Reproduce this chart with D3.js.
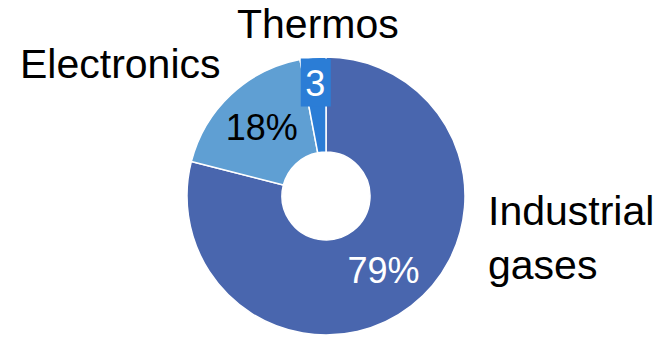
<!DOCTYPE html>
<html>
<head>
<meta charset="utf-8">
<script src="https://cdn.jsdelivr.net/npm/d3@7"></script>
<style>
  html, body { margin: 0; padding: 0; background: #fff; }
  svg { display: block; font-family: "Liberation Sans", Arial, sans-serif; }
</style>
</head>
<body>
<svg id="chart" width="653" height="337"></svg>
<script>
// Data
const categories = ["Industrial gases", "Electronics", "Thermos"];
const values = [79, 18, 3];
const valueLabels = ["79%", "18%", "3"];
const colors = ["#4966ae", "#5f9fd3", "#2b7dd6"];

const W = 653, H = 337;
const cx = 326, cy = 196;
const outerR = 139, innerR = 44;

const svg = d3.select("#chart");
const g = svg.append("g").attr("transform", `translate(${cx},${cy})`);

const pie = d3.pie().sort(null).value(d => d);
const arcs = pie(values);

const arc = d3.arc().innerRadius(innerR).outerRadius(outerR);

g.selectAll("path.slice")
  .data(arcs)
  .enter().append("path")
  .attr("class", "slice")
  .attr("d", arc)
  .attr("fill", (d, i) => colors[i])
  .attr("stroke", "#fff")
  .attr("stroke-width", 1.5)
  .attr("stroke-linejoin", "round");

// value labels
const labelRadius = [94, 94, 114];
const fs = 36;
arcs.forEach((a, i) => {
  const la = d3.arc().innerRadius(labelRadius[i]).outerRadius(labelRadius[i]);
  const [x, y] = la.centroid(a);
  if (i === 2) {
    // boxed label
    const bw = 30, bh = 48;
    g.append("rect")
      .attr("x", x - bw / 2 + 0.5)
      .attr("y", y - bh / 2)
      .attr("width", bw)
      .attr("height", bh)
      .attr("fill", colors[i]);
  }
  g.append("text")
    .attr("x", x)
    .attr("y", y + 13)
    .attr("text-anchor", "middle")
    .attr("font-size", fs)
    .attr("fill", i === 1 ? "#000" : "#fff")
    .text(valueLabels[i]);
});

// category labels
const catPos = [
  { x: 488, y: 225, lines: ["Industrial", "gases"], anchor: "start" },
  { x: 20, y: 78, lines: ["Electronics"], anchor: "start" },
  { x: 237, y: 38, lines: ["Thermos"], anchor: "start" }
];
categories.forEach((c, i) => {
  const p = catPos[i];
  const t = svg.append("text")
    .attr("x", p.x)
    .attr("y", p.y)
    .attr("text-anchor", p.anchor)
    .attr("font-size", 41)
    .attr("fill", "#000");
  p.lines.forEach((ln, j) => {
    t.append("tspan").attr("x", p.x).attr("dy", j === 0 ? 0 : 54).text(ln);
  });
});
</script>
</body>
</html>
